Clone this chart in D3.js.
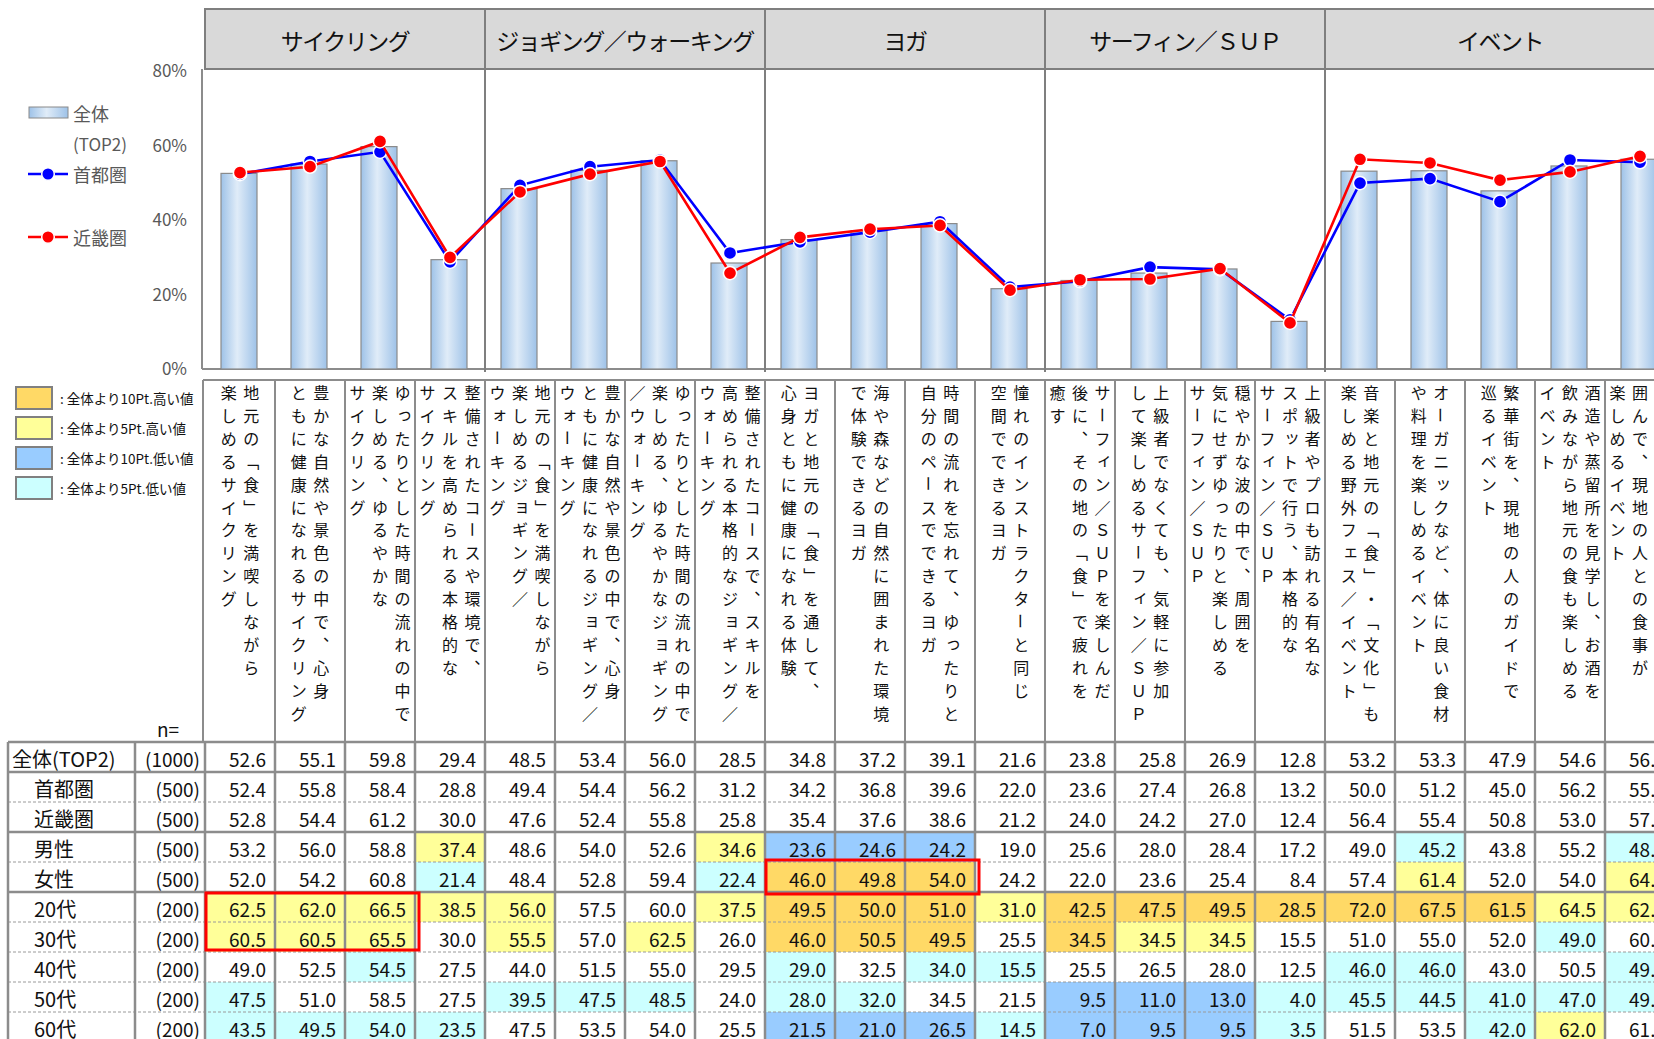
<!DOCTYPE html>
<html lang="ja">
<head>
<meta charset="utf-8">
<script src="https://cdn.jsdelivr.net/npm/d3@7"></script>
<style>
  html, body { margin: 0; padding: 0; background: #fff; overflow: hidden; }
  svg text { font-family: "Noto Sans CJK JP", "Noto Sans", sans-serif; }
</style>
</head>
<body>
<svg id="chart" width="1654" height="1039"></svg>
<script>
// ---- data ----
const groupNames = ["サイクリング", "ジョギング／ウォーキング", "ヨガ", "サーフィン／ＳＵＰ", "イベント"];
const groupSizes = [4, 4, 4, 4, 5];

// item descriptions, one array of vertical lines per column (first line is rightmost)
const itemLines = [
  ["地元の「食」を満喫しながら", "楽しめるサイクリング"],
  ["豊かな自然や景色の中で、心身", "ともに健康になれるサイクリング"],
  ["ゆったりとした時間の流れの中で", "楽しめる、ゆるやかな", "サイクリング"],
  ["整備されたコースや環境で、", "スキルを高められる本格的な", "サイクリング"],
  ["地元の「食」を満喫しながら", "楽しめるジョギング／", "ウォーキング"],
  ["豊かな自然や景色の中で、心身", "ともに健康になれるジョギング／", "ウォーキング"],
  ["ゆったりとした時間の流れの中で", "楽しめる、ゆるやかなジョギング", "／ウォーキング"],
  ["整備されたコースで、スキルを", "高められる本格的なジョギング／", "ウォーキング"],
  ["ヨガと地元の「食」を通して、", "心身ともに健康になれる体験"],
  ["海や森などの自然に囲まれた環境", "で体験できるヨガ"],
  ["時間の流れを忘れて、ゆったりと", "自分のペースでできるヨガ"],
  ["憧れのインストラクターと同じ", "空間でできるヨガ"],
  ["サーフィン／ＳＵＰを楽しんだ", "後に、その地の「食」で疲れを", "癒す"],
  ["上級者でなくても、気軽に参加", "して楽しめるサーフィン／ＳＵＰ"],
  ["穏やかな波の中で、周囲を", "気にせずゆったりと楽しめる", "サーフィン／ＳＵＰ"],
  ["上級者やプロも訪れる有名な", "スポットで行う、本格的な", "サーフィン／ＳＵＰ"],
  ["音楽と地元の「食」・「文化」も", "楽しめる野外フェス／イベント"],
  ["オーガニックなど、体に良い食材", "や料理を楽しめるイベント"],
  ["繁華街を、現地の人のガイドで", "巡るイベント"],
  ["酒造や蒸留所を見学し、お酒を", "飲みながら地元の食も楽しめる", "イベント"],
  ["", "囲んで、現地の人との食事が", "楽しめるイベント"]
];

const rowNames = ["全体(TOP2)", "首都圏", "近畿圏", "男性", "女性", "20代", "30代", "40代", "50代", "60代"];
const rowCounts = ["(1000)", "(500)", "(500)", "(500)", "(500)", "(200)", "(200)", "(200)", "(200)", "(200)"];

const total    = [52.6, 55.1, 59.8, 29.4, 48.5, 53.4, 56.0, 28.5, 34.8, 37.2, 39.1, 21.6, 23.8, 25.8, 26.9, 12.8, 53.2, 53.3, 47.9, 54.6, 56.4];
const shutoken = [52.4, 55.8, 58.4, 28.8, 49.4, 54.4, 56.2, 31.2, 34.2, 36.8, 39.6, 22.0, 23.6, 27.4, 26.8, 13.2, 50.0, 51.2, 45.0, 56.2, 55.6];
const kinkiken = [52.8, 54.4, 61.2, 30.0, 47.6, 52.4, 55.8, 25.8, 35.4, 37.6, 38.6, 21.2, 24.0, 24.2, 27.0, 12.4, 56.4, 55.4, 50.8, 53.0, 57.2];
const male     = [53.2, 56.0, 58.8, 37.4, 48.6, 54.0, 52.6, 34.6, 23.6, 24.6, 24.2, 19.0, 25.6, 28.0, 28.4, 17.2, 49.0, 45.2, 43.8, 55.2, 48.4];
const female   = [52.0, 54.2, 60.8, 21.4, 48.4, 52.8, 59.4, 22.4, 46.0, 49.8, 54.0, 24.2, 22.0, 23.6, 25.4, 8.4, 57.4, 61.4, 52.0, 54.0, 64.4];
const age20    = [62.5, 62.0, 66.5, 38.5, 56.0, 57.5, 60.0, 37.5, 49.5, 50.0, 51.0, 31.0, 42.5, 47.5, 49.5, 28.5, 72.0, 67.5, 61.5, 64.5, 62.5];
const age30    = [60.5, 60.5, 65.5, 30.0, 55.5, 57.0, 62.5, 26.0, 46.0, 50.5, 49.5, 25.5, 34.5, 34.5, 34.5, 15.5, 51.0, 55.0, 52.0, 49.0, 60.5];
const age40    = [49.0, 52.5, 54.5, 27.5, 44.0, 51.5, 55.0, 29.5, 29.0, 32.5, 34.0, 15.5, 25.5, 26.5, 28.0, 12.5, 46.0, 46.0, 43.0, 50.5, 49.0];
const age50    = [47.5, 51.0, 58.5, 27.5, 39.5, 47.5, 48.5, 24.0, 28.0, 32.0, 34.5, 21.5, 9.5, 11.0, 13.0, 4.0, 45.5, 44.5, 41.0, 47.0, 49.0];
const age60    = [43.5, 49.5, 54.0, 23.5, 47.5, 53.5, 54.0, 25.5, 21.5, 21.0, 26.5, 14.5, 7.0, 9.5, 9.5, 3.5, 51.5, 53.5, 42.0, 62.0, 61.0];

const yTicks = [0, 20, 40, 60, 80];
const legendSeries = ["全体", "首都圏", "近畿圏"];
const cellLegend = [": 全体より10Pt.高い値", ": 全体より5Pt.高い値", ": 全体より10Pt.低い値", ": 全体より5Pt.低い値"];
// boxed cells: [first row, last row, first column, last column]
const highlights = [[5, 6, 0, 2], [4, 4, 8, 10]];

// ---- layout ----
const tableRows = [total, shutoken, kinkiken, male, female, age20, age30, age40, age50, age60];
const nCols = total.length;
const colLeft = 205, colW = 70;
const headTop = 9, headBottom = 69;
const plotLeft = 202;
const labelTop = 380, tableTop = 742, rowH = 30;
const tableLeft = 8, nColLeft = 135;
const gridColor = "#8c8c8c";
const fillColors = ["#ffd966", "#ffff99", "#99ccff", "#ccffff"];

const svg = d3.select("#chart");
const defs = svg.append("defs");
const grad = defs.append("linearGradient").attr("id", "barGrad").attr("x1", 0).attr("x2", 1).attr("y1", 0).attr("y2", 0);
grad.append("stop").attr("offset", "0%").attr("stop-color", "#9ec2e8");
grad.append("stop").attr("offset", "45%").attr("stop-color", "#e0ecf8");
grad.append("stop").attr("offset", "100%").attr("stop-color", "#9ec2e8");

const x = d3.scaleBand().domain(d3.range(nCols)).range([colLeft, colLeft + colW * nCols]).paddingInner(0).paddingOuter(0);
const y = d3.scaleLinear().domain([0, 80]).range([369, 71.5]);
const cx = i => x(i) + x.bandwidth() / 2;

// ---- category header ----
const groupStart = groupSizes.map((s, i) => d3.sum(groupSizes.slice(0, i)));
const head = svg.append("g");
head.append("rect").attr("x", colLeft).attr("y", headTop)
  .attr("width", 1654 - colLeft + 10).attr("height", headBottom - headTop)
  .attr("fill", "#d9d9d9").attr("stroke", "#7f7f7f").attr("stroke-width", 2);
head.selectAll("text.grp").data(groupNames).join("text").attr("class", "grp")
  .attr("x", (d, i) => x(groupStart[i]) + groupSizes[i] * colW / 2)
  .attr("y", (headTop + headBottom) / 2 + 1)
  .attr("text-anchor", "middle").attr("dominant-baseline", "central")
  .attr("font-size", 23).attr("letter-spacing", -1.5).attr("fill", "#111").text(d => d);

// ---- plot frame ----
const frame = svg.append("g").attr("stroke", gridColor).attr("stroke-width", 2);
frame.append("line").attr("x1", plotLeft).attr("x2", plotLeft).attr("y1", headBottom).attr("y2", y(0));
frame.append("line").attr("x1", plotLeft).attr("x2", 1654).attr("y1", y(0)).attr("y2", y(0));
frame.selectAll("line.div").data(groupStart.slice(1)).join("line").attr("class", "div")
  .attr("x1", d => x(d)).attr("x2", d => x(d)).attr("y1", headTop).attr("y2", y(0) + 3)
  .attr("stroke", "#7f7f7f");

// ---- y axis ----
svg.append("g").attr("transform", `translate(${plotLeft},0)`)
  .call(d3.axisLeft(y).tickValues(yTicks).tickSize(0).tickPadding(15).tickFormat(d => d + "%"))
  .call(g => g.select(".domain").remove())
  .call(g => g.selectAll("text").attr("font-size", 17).attr("fill", "#595959")
    .attr("font-family", "'Noto Sans CJK JP', sans-serif"));

// ---- bars (全体) ----
svg.append("g").selectAll("rect").data(total).join("rect")
  .attr("x", (d, i) => cx(i) - 19).attr("width", 36)
  .attr("y", d => y(d)).attr("height", d => y(0) - y(d))
  .attr("fill", "url(#barGrad)").attr("stroke", "#8a8a8a").attr("stroke-width", 1.2);

// ---- lines (首都圏 / 近畿圏) ----
const lineGen = d3.line().x((d, i) => cx(i)).y(d => y(d));
[[shutoken, "#0000ff"], [kinkiken, "#ff0000"]].forEach(([vals, col]) => {
  const g = svg.append("g");
  g.append("path").datum(vals).attr("d", lineGen).attr("fill", "none")
    .attr("stroke", col).attr("stroke-width", 2.6);
  g.selectAll("circle").data(vals).join("circle")
    .attr("cx", (d, i) => cx(i)).attr("cy", d => y(d)).attr("r", 6.6)
    .attr("fill", col).attr("stroke", "#fff").attr("stroke-width", 1.5);
});

// ---- series legend ----
const lg = svg.append("g");
lg.append("rect").attr("x", 29).attr("y", 107).attr("width", 39).attr("height", 11)
  .attr("fill", "url(#barGrad)").attr("stroke", "#8a8a8a").attr("stroke-width", 1);
lg.append("text").attr("x", 73).attr("y", 113).attr("dominant-baseline", "central")
  .attr("font-size", 18).attr("fill", "#595959").text(legendSeries[0]);
lg.append("text").attr("x", 73).attr("y", 143).attr("dominant-baseline", "central")
  .attr("font-size", 17).attr("fill", "#595959").text("(TOP2)");
[[legendSeries[1], "#0000ff", 174], [legendSeries[2], "#ff0000", 237]].forEach(([name, col, ly]) => {
  lg.append("line").attr("x1", 28).attr("x2", 68).attr("y1", ly).attr("y2", ly)
    .attr("stroke", col).attr("stroke-width", 2.6);
  lg.append("circle").attr("cx", 48).attr("cy", ly).attr("r", 6.3).attr("fill", col)
    .attr("stroke", "#fff").attr("stroke-width", 1.5);
  lg.append("text").attr("x", 73).attr("y", ly).attr("dominant-baseline", "central")
    .attr("font-size", 18).attr("fill", "#595959").text(name);
});

// ---- item label area (vertical text) ----
const lab = svg.append("g");
lab.append("line").attr("x1", 203).attr("x2", 1654).attr("y1", labelTop).attr("y2", labelTop)
  .attr("stroke", gridColor).attr("stroke-width", 2);
lab.selectAll("line.v").data(d3.range(nCols + 1)).join("line").attr("class", "v")
  .attr("x1", i => i === 0 ? 203 : colLeft + i * colW).attr("x2", i => i === 0 ? 203 : colLeft + i * colW)
  .attr("y1", labelTop).attr("y2", tableTop)
  .attr("stroke", gridColor).attr("stroke-width", 2);

const vertForms = { "「": "﹁", "」": "﹂", "、": "︑", "。": "︒" };
const rotated = new Set(["ー"]);
const smallKana = new Set("ァィゥェォッャュョぁぃぅぇぉっゃゅょ");
const charPitch = 22.9, linePitch = 22.5, firstCharY = 392;
itemLines.forEach((lines, ci) => {
  const k = lines.length;
  lines.forEach((line, li) => {
    const lx = cx(ci) + ((k - 1) / 2 - li) * linePitch;
    Array.from(line).forEach((ch, j) => {
      const cy = firstCharY + j * charPitch;
      const t = lab.append("text").attr("text-anchor", "middle").attr("dominant-baseline", "central")
        .attr("font-size", 16).attr("fill", "#111");
      if (rotated.has(ch)) {
        t.attr("x", lx).attr("y", cy).attr("transform", `rotate(90,${lx},${cy})`).text(ch);
      } else if (smallKana.has(ch)) {
        t.attr("x", lx + 2).attr("y", cy - 2).text(ch);
      } else {
        t.attr("x", lx).attr("y", cy).text(vertForms[ch] || ch);
      }
    });
  });
});

// ---- colour legend ----
const cl = svg.append("g");
cellLegend.forEach((txt, i) => {
  const ly = 387 + i * 30;
  cl.append("rect").attr("x", 16).attr("y", ly).attr("width", 36).attr("height", 22)
    .attr("fill", fillColors[i]).attr("stroke", "#808080").attr("stroke-width", 2);
  cl.append("text").attr("x", 60).attr("y", ly + 11).attr("dominant-baseline", "central")
    .attr("font-size", 13.5).attr("fill", "#111").text(txt);
});
svg.append("text").attr("x", 168).attr("y", 728).attr("text-anchor", "middle")
  .attr("dominant-baseline", "central").attr("font-size", 19).attr("fill", "#111").text("n=");

// ---- data table ----
const tbl = svg.append("g");
function cellFill(v, base) {
  const d = Math.round((v - base) * 10) / 10;
  if (d >= 10) return fillColors[0];
  if (d >= 5) return fillColors[1];
  if (d <= -10) return fillColors[2];
  if (d <= -5) return fillColors[3];
  return null;
}
const rowY = r => tableTop + r * rowH;
tableRows.forEach((vals, r) => {
  const g = tbl.append("g");
  if (r > 0) {
    g.selectAll("rect").data(vals.map((v, i) => ({ i, f: cellFill(v, total[i]) })).filter(d => d.f)).join("rect")
      .attr("x", d => x(d.i)).attr("y", rowY(r)).attr("width", colW).attr("height", rowH)
      .attr("fill", d => d.f);
  }
  g.append("text").attr("x", r === 0 ? 12 : 34).attr("y", rowY(r) + rowH / 2 + 1)
    .attr("dominant-baseline", "central").attr("font-size", 20).attr("fill", "#111").text(rowNames[r]);
  g.append("text").attr("x", 200).attr("y", rowY(r) + rowH / 2 + 1).attr("text-anchor", "end")
    .attr("dominant-baseline", "central").attr("font-size", 19).attr("fill", "#111").text(rowCounts[r]);
  g.selectAll("text.v").data(vals).join("text").attr("class", "v")
    .attr("x", (d, i) => x(i) + colW - 9).attr("y", rowY(r) + rowH / 2 + 1)
    .attr("text-anchor", "end").attr("dominant-baseline", "central")
    .attr("font-size", 19).attr("fill", "#111").text(d => d.toFixed(1));
});

// row separators: solid between blocks, dashed inside a block
const solidAfter = new Set([0, 2, 4]);
const sepRows = d3.range(0, tableRows.length);
tbl.selectAll("line.h").data(sepRows).join("line").attr("class", "h")
  .attr("x1", tableLeft).attr("x2", 1654)
  .attr("y1", r => rowY(r + 1)).attr("y2", r => rowY(r + 1))
  .attr("stroke", r => solidAfter.has(r) ? gridColor : "#9a9a9a")
  .attr("stroke-width", r => solidAfter.has(r) ? 2.5 : 1)
  .attr("stroke-dasharray", r => solidAfter.has(r) ? null : "3,2");
tbl.append("line").attr("x1", tableLeft).attr("x2", 1654).attr("y1", tableTop).attr("y2", tableTop)
  .attr("stroke", gridColor).attr("stroke-width", 2.5);
const vCols = [tableLeft, nColLeft].concat(d3.range(nCols + 1).map(i => colLeft + i * colW));
tbl.selectAll("line.vc").data(vCols).join("line").attr("class", "vc")
  .attr("x1", d => d).attr("x2", d => d).attr("y1", tableTop).attr("y2", 1039)
  .attr("stroke", gridColor).attr("stroke-width", 2.5);

// boxed cells
tbl.selectAll("rect.hl").data(highlights).join("rect").attr("class", "hl")
  .attr("x", d => x(d[2]) + 1).attr("y", d => rowY(d[0]) + (d[0] === d[1] ? -2 : 1))
  .attr("width", d => x(d[3]) + colW - x(d[2]) + 3)
  .attr("height", d => rowY(d[1] + 1) - rowY(d[0]) + (d[0] === d[1] ? 4 : -3))
  .attr("fill", "none").attr("stroke", "#ff0000").attr("stroke-width", 3);
</script>
</body>
</html>
